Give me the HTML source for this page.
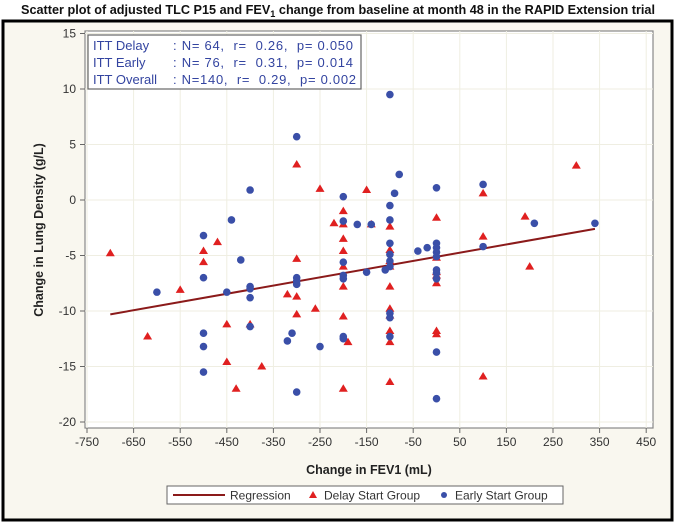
<!DOCTYPE html>
<html><head><meta charset="utf-8"><style>
body{margin:0;background:#fff;}
svg{display:block;font-family:"Liberation Sans",sans-serif;}
.pre{white-space:pre;}
</style></head><body>
<svg id="chart" width="676" height="523" xmlns="http://www.w3.org/2000/svg">
<text x="338" y="14" text-anchor="middle" font-size="12.5" font-weight="bold" fill="#111" textLength="634" lengthAdjust="spacingAndGlyphs">Scatter plot of adjusted TLC P15 and FEV<tspan font-size="9" dy="3">1</tspan><tspan dy="-3"> change from baseline at month 48 in the RAPID Extension trial</tspan></text>
<rect x="3" y="21" width="669" height="499" fill="#f9f7ef" stroke="#000" stroke-width="3"/>
<rect x="85" y="31" width="568" height="397" fill="#fff" stroke="#888" stroke-width="1.2"/>
<g id="grid"></g>
<g id="axes"></g>
<g id="marks"></g>
<g>
<rect x="88" y="35" width="273" height="54" fill="#fff" stroke="#666" stroke-width="1.2"/>
<text font-size="13" fill="#3344a0" class="pre" xml:space="preserve">
<tspan x="93" y="50">ITT Delay</tspan><tspan x="173" y="50" textLength="180" lengthAdjust="spacing">: N= 64,  r=  0.26,  p= 0.050</tspan>
<tspan x="93" y="67">ITT Early</tspan><tspan x="173" y="67" textLength="180" lengthAdjust="spacing">: N= 76,  r=  0.31,  p= 0.014</tspan>
<tspan x="93" y="84">ITT Overall</tspan><tspan x="173" y="84" textLength="183" lengthAdjust="spacing">: N=140,  r=  0.29,  p= 0.002</tspan>
</text></g>
<text x="369" y="474" text-anchor="middle" font-size="12.5" font-weight="bold" fill="#222">Change in FEV1 (mL)</text>
<text transform="translate(43,230) rotate(-90)" text-anchor="middle" font-size="12.5" font-weight="bold" fill="#222">Change in Lung Density (g/L)</text>
<g>
<rect x="167" y="486" width="396" height="18" fill="#fff" stroke="#666"/>
<g><line x1="173" y1="495" x2="225" y2="495" stroke="#8b1a1a" stroke-width="2"/><text x="230" y="499.5" font-size="12" fill="#333">Regression</text></g>
<g><polygon points="313,491 317,498 309,498" fill="#e02020"/><text x="324" y="499.5" font-size="12" fill="#333">Delay Start Group</text></g>
<g><circle cx="444" cy="495" r="3" fill="#3a4fa8"/><text x="455" y="499.5" font-size="12" fill="#333">Early Start Group</text></g>
</g>
</svg>
<script>
const xTicks=[-750,-650,-550,-450,-350,-250,-150,-50,50,150,250,350,450];
const yTicks=[15,10,5,0,-5,-10,-15,-20];
const regression=[[-700,-10.3],[340,-2.6]];
const delayX=[-700,-620,-550,-500,-500,-470,-450,-450,-430,-400,-375,-320,-300,-300,-300,-300,-260,-250,-220,-200,-200,-200,-200,-200,-200,-200,-200,-190,-150,-140,-100,-100,-100,-100,-100,-100,-100,-100,-100,-100,0,0,0,0,0,0,0,100,100,100,190,200,300];
const delayY=[-4.8,-12.3,-8.1,-4.6,-5.6,-3.8,-11.2,-14.6,-17,-11.2,-15,-8.5,-8.7,-10.3,-5.3,3.2,-9.8,1,-2.1,-1,-2.2,-3.5,-4.6,-6,-7.8,-10.5,-17,-12.8,0.9,-2.2,-2.4,-4.5,-5.5,-6,-7.8,-9.8,-10.4,-11.8,-12.8,-16.4,-1.6,-5.2,-6.8,-7.5,-11.8,-12.1,-6.5,0.6,-3.3,-15.9,-1.5,-6,3.1];
const earlyX=[-600,-500,-500,-500,-500,-500,-450,-440,-420,-400,-400,-400,-400,-400,-320,-310,-300,-300,-300,-300,-300,-250,-200,-200,-200,-200,-200,-200,-200,-170,-150,-140,-100,-100,-100,-100,-100,-100,-100,-100,-100,-100,-90,-80,-110,-40,-20,0,0,0,0,0,0,0,0,0,0,100,100,210,340];
const earlyY=[-8.3,-3.2,-7,-12,-13.2,-15.5,-8.3,-1.8,-5.4,0.9,-7.8,-8,-8.8,-11.4,-12.7,-12,5.7,-7,-7.3,-7.6,-17.3,-13.2,0.3,-1.9,-5.6,-6.8,-7.1,-12.3,-12.5,-2.2,-6.5,-2.2,9.5,-0.5,-1.8,-3.9,-4.9,-5.5,-6,-10.2,-10.6,-12.3,0.6,2.3,-6.3,-4.6,-4.3,1.1,-3.9,-4.3,-4.7,-5.1,-6.3,-6.6,-7.1,-13.7,-17.9,1.4,-4.2,-2.1,-2.1];
const NS='http://www.w3.org/2000/svg';
const X=v=>87+(v+750)*0.466;
const Y=v=>422-(v+20)*11.1;
function mk(t,a,p){const e=document.createElementNS(NS,t);for(const k in a)e.setAttribute(k,a[k]);p.appendChild(e);return e;}
const grid=document.getElementById('grid'),axes=document.getElementById('axes'),marks=document.getElementById('marks');
xTicks.forEach(t=>{
 const l=mk('line',{x1:X(t),x2:X(t),y1:31,y2:428,stroke:'#efeee2','stroke-width':1},grid);
 
 
 mk('line',{x1:X(t),x2:X(t),y1:428,y2:433,stroke:'#666'},axes);
 const tx=mk('text',{x:X(t),y:446,'text-anchor':'middle','font-size':12,fill:'#333'},axes);
 tx.textContent=t;
 
 
});
yTicks.forEach(t=>{
 const l=mk('line',{x1:85,x2:653,y1:Y(t),y2:Y(t),stroke:'#efeee2','stroke-width':1},grid);
 
 
 mk('line',{x1:80,x2:85,y1:Y(t),y2:Y(t),stroke:'#666'},axes);
 const tx=mk('text',{x:76,y:Y(t)+4,'text-anchor':'end','font-size':12,fill:'#333'},axes);
 tx.textContent=t;
 
 
});
const rl=mk('line',{x1:X(regression[0][0]),y1:Y(regression[0][1]),x2:X(regression[1][0]),y2:Y(regression[1][1]),stroke:'#8b1a1a','stroke-width':2},marks);


delayX.forEach((v,i)=>{
 const cx=X(v),cy=Y(delayY[i]);
 const p=mk('polygon',{points:`${cx},${cy-4.5} ${cx+4.5},${cy+3} ${cx-4.5},${cy+3}`,fill:'#e02020'},marks);
 
 
});
earlyX.forEach((v,i)=>{
 const c=mk('circle',{cx:X(v),cy:Y(earlyY[i]),r:3.8,fill:'#3a4fa8'},marks);
 
 
});
</script>
</body></html>
